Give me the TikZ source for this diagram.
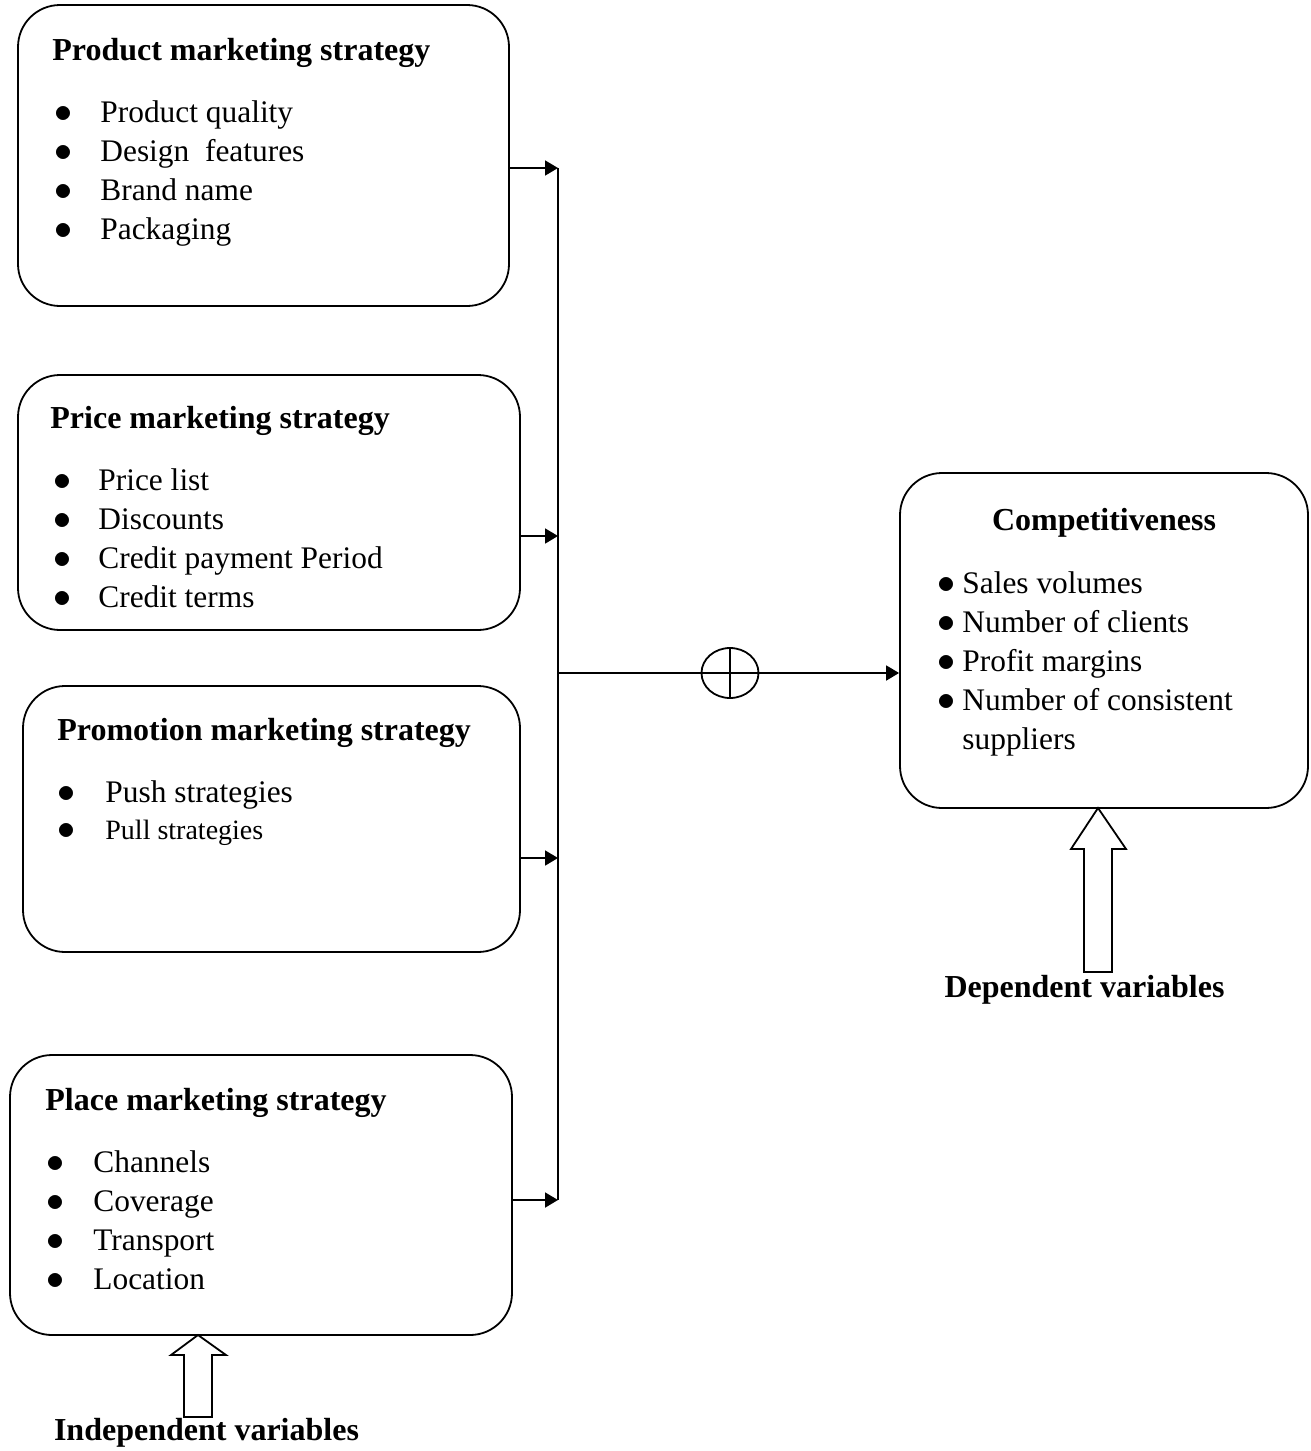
\documentclass[tikz,border=0pt]{standalone}
\usepackage{fontspec}
\usepackage{graphicx}
\setmainfont{Liberation Serif}
\usetikzlibrary{arrows.meta,shapes.geometric}

\newcommand{\bul}[1]{\makebox[#1][l]{\scalebox{1.25}{$\bullet$}}}

\begin{document}
\begin{tikzpicture}[x=0.5pt,y=-0.5pt,
		box/.style={draw,line width=0.9pt,rounded corners=21pt,inner sep=0pt},
		head/.style={inner sep=0pt,font=\fontsize{16}{19.5}\selectfont\bfseries},
		item/.style={inner sep=0pt,anchor=base west,font=\fontsize{15.7}{19.5}\selectfont},
		feed/.style={line width=0.9pt,-{Triangle[length=6.5pt,width=7.5pt]}},
		sum/.style={draw,ellipse,line width=0.9pt,minimum width=28.5pt,minimum height=25pt,inner sep=0pt},
		hollow/.style={draw,line width=0.9pt,fill=white,line join=miter}]
	\useasboundingbox (0,0) rectangle (1311,1451);

	\node[box,minimum width=245.5pt,minimum height=150.5pt] (product) at (263.5,155.5) {};
	\node[box,minimum width=251pt,minimum height=127.5pt] (price) at (269,502.5) {};
	\node[box,minimum width=248.5pt,minimum height=133pt] (promo) at (271.5,819) {};
	\node[box,minimum width=251pt,minimum height=140pt] (place) at (261,1195) {};
	\node[box,minimum width=204pt,minimum height=167.5pt] (compet) at (1104,640.5) {};

	\node[head,anchor=base west] (product-h) at (52,60) {Product marketing strategy};
	\foreach \t [count=\i] in {Product quality,Design \ features,Brand name,Packaging}
		\node[item] (product-\i) at (54,83+39*\i) {\bul{23pt}\t};

	\node[head,anchor=base west] (price-h) at (50,428) {Price marketing strategy};
	\foreach \t [count=\i] in {Price list,Discounts,Credit payment Period,Credit terms}
		\node[item] (price-\i) at (53,451+39*\i) {\bul{22.5pt}\t};

	\node[head,anchor=base west] (promo-h) at (57,740) {Promotion marketing strategy};
	\node[item] (promo-1) at (57,802) {\bul{24pt}Push strategies};
	\node[item,font=\fontsize{14}{17}\selectfont] (promo-2) at (57,839) {\bul{24pt}Pull strategies};

	\node[head,anchor=base west] (place-h) at (45,1110) {Place marketing strategy};
	\foreach \t [count=\i] in {Channels,Coverage,Transport,Location}
		\node[item] (place-\i) at (46,1133+39*\i) {\bul{23.5pt}\t};

	\node[head,anchor=base] (compet-h) at (1104,530) {Competitiveness};
	\foreach \t [count=\i] in {Sales volumes,Number of clients,Profit margins,Number of consistent}
		\node[item] (compet-\i) at (937,554+39*\i) {\bul{12.5pt}\t};
	\node[item] (compet-5) at (962,749) {suppliers};

	\coordinate (bt) at (558,168);
	\coordinate (b2) at (558,536);
	\coordinate (bm) at (558,673);
	\coordinate (b3) at (558,858);
	\coordinate (bb) at (558,1200);
	\draw[line width=0.9pt] (bt) -- (bb);

	\draw[feed] (product.east |- bt) -- (bt);
	\draw[feed] (price.east |- b2) -- (b2);
	\draw[feed] (promo.east |- b3) -- (b3);
	\draw[feed] (place.east |- bb) -- (bb);

	\node[sum] (sum) at (730,673) {};
	\draw[line width=0.9pt] (sum.north) -- (sum.south) (sum.west) -- (sum.east);
	\draw[line width=0.9pt] (bm) -- (sum.west);
	\draw[feed] (sum.east) -- (compet.west |- sum);

	\coordinate (dtip) at (1098,808);
	\draw[hollow] (dtip) -- (1126,849) -- (1112,849) -- (1112,972) -- (1084,972) -- (1084,849) -- (1071,849) -- cycle;
	\node[head,anchor=base] (dep) at (1084.5,997) {Dependent variables};

	\coordinate (itip) at (198,1335);
	\draw[hollow] (itip) -- (226,1355) -- (212,1355) -- (212,1417) -- (184,1417) -- (184,1355) -- (171,1355) -- cycle;
	\node[head,anchor=base] (indep) at (206.5,1440) {Independent variables};
\end{tikzpicture}
\end{document}
